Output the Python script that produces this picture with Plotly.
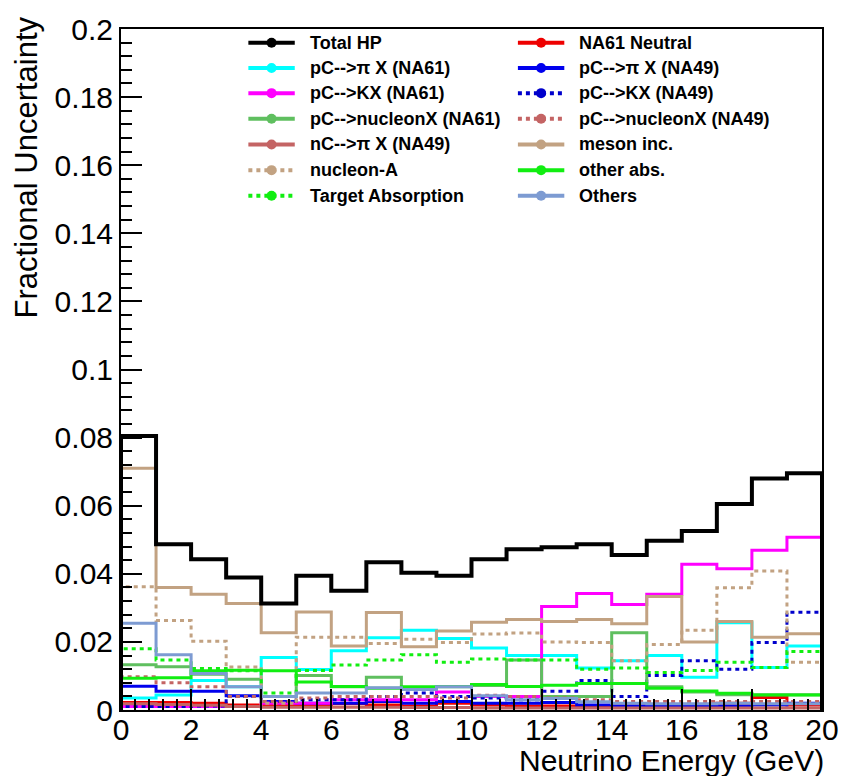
import plotly.graph_objects as go

# ---------------- data (bin edges in GeV, values = fractional uncertainty) ----
bin_edges = list(range(0, 21))

total_hp = [0.0805, 0.0487, 0.0443, 0.0389, 0.0313, 0.0394, 0.0350, 0.0434, 0.0403, 0.0394,
            0.0443, 0.0472, 0.0478, 0.0487, 0.0455, 0.0497, 0.0526, 0.0605, 0.0680, 0.0695]
na61_neutral = [0.0022, 0.0022, 0.0020, 0.0015, 0.0015, 0.0015, 0.0018, 0.0015, 0.0012, 0.0020,
                0.0015, 0.0012, 0.0012, 0.0012, 0.0012, 0.0012, 0.0015, 0.0020, 0.0037, 0.0015]
pc_pi_na61 = [0.0035, 0.0044, 0.0087, 0.0068, 0.0154, 0.0119, 0.0174, 0.0212, 0.0234, 0.0210,
              0.0182, 0.0160, 0.0160, 0.0123, 0.0145, 0.0160, 0.0096, 0.0256, 0.0125, 0.0188]
pc_pi_na49 = [0.0070, 0.0055, 0.0055, 0.0042, 0.0025, 0.0020, 0.0020, 0.0025, 0.0020, 0.0025,
              0.0020, 0.0020, 0.0022, 0.0015, 0.0012, 0.0012, 0.0012, 0.0012, 0.0015, 0.0020]
pc_k_na61 = [0.0010, 0.0010, 0.0010, 0.0010, 0.0020, 0.0020, 0.0030, 0.0030, 0.0030, 0.0053,
             0.0040, 0.0040, 0.0304, 0.0342, 0.0310, 0.0340, 0.0428, 0.0415, 0.0469, 0.0507]
pc_k_na49 = [0.0010, 0.0010, 0.0012, 0.0040, 0.0025, 0.0030, 0.0030, 0.0040, 0.0050, 0.0040,
             0.0035, 0.0030, 0.0055, 0.0087, 0.0040, 0.0101, 0.0145, 0.0120, 0.0198, 0.0287]
pc_nucleon_na61 = [0.0133, 0.0127, 0.0105, 0.0090, 0.0040, 0.0101, 0.0068, 0.0096, 0.0064, 0.0068,
                   0.0072, 0.0147, 0.0040, 0.0040, 0.0227, 0.0068, 0.0053, 0.0045, 0.0045, 0.0045]
pc_nucleon_na49 = [0.0098, 0.0080, 0.0068, 0.0040, 0.0025, 0.0035, 0.0040, 0.0040, 0.0040, 0.0035,
                   0.0043, 0.0040, 0.0035, 0.0030, 0.0025, 0.0025, 0.0025, 0.0025, 0.0025, 0.0025]
nc_pi_na49 = [0.0018, 0.0016, 0.0014, 0.0010, 0.0008, 0.0008, 0.0008, 0.0008, 0.0007, 0.0007,
              0.0006, 0.0006, 0.0006, 0.0006, 0.0006, 0.0006, 0.0006, 0.0006, 0.0006, 0.0006]
meson_inc = [0.0710, 0.0360, 0.0340, 0.0313, 0.0227, 0.0288, 0.0188, 0.0286, 0.0186, 0.0232,
             0.0258, 0.0266, 0.0260, 0.0266, 0.0253, 0.0333, 0.0200, 0.0260, 0.0214, 0.0224]
nucleon_a = [0.0362, 0.0263, 0.0202, 0.0126, 0.0020, 0.0214, 0.0214, 0.0195, 0.0208, 0.0198,
             0.0223, 0.0226, 0.0200, 0.0198, 0.0145, 0.0192, 0.0234, 0.0359, 0.0408, 0.0140]
other_abs = [0.0093, 0.0095, 0.0115, 0.0117, 0.0115, 0.0082, 0.0069, 0.0064, 0.0068, 0.0069,
             0.0075, 0.0069, 0.0073, 0.0078, 0.0078, 0.0064, 0.0056, 0.0049, 0.0044, 0.0044]
target_abs = [0.0180, 0.0147, 0.0122, 0.0115, 0.0050, 0.0116, 0.0132, 0.0147, 0.0162, 0.0140,
              0.0150, 0.0147, 0.0147, 0.0120, 0.0123, 0.0110, 0.0116, 0.0140, 0.0125, 0.0172]
others = [0.0255, 0.0162, 0.0107, 0.0068, 0.0040, 0.0050, 0.0050, 0.0065, 0.0060, 0.0068,
          0.0042, 0.0030, 0.0034, 0.0024, 0.0020, 0.0018, 0.0018, 0.0020, 0.0018, 0.0018]

legend_names = ["Total HP", "NA61 Neutral", "pC-->\u03c0 X (NA61)", "pC-->\u03c0 X (NA49)",
                "pC-->KX (NA61)", "pC-->KX (NA49)", "pC-->nucleonX (NA61)", "pC-->nucleonX (NA49)",
                "nC-->\u03c0 X (NA49)", "meson inc.", "nucleon-A", "other abs.",
                "Target Absorption", "Others"]
series_values = [total_hp, na61_neutral, pc_pi_na61, pc_pi_na49, pc_k_na61, pc_k_na49,
                 pc_nucleon_na61, pc_nucleon_na49, nc_pi_na49, meson_inc, nucleon_a,
                 other_abs, target_abs, others]

x_ticks = list(range(0, 21, 2))

# ---------------- styles ----------------
DOT = "4px,4px"
styles = [
    ("#000000", "solid", 4),
    ("#ee0000", "solid", 3),
    ("#00ffff", "solid", 3),
    ("#0000ee", "solid", 3),
    ("#ff00ff", "solid", 3),
    ("#0000cc", DOT, 3),
    ("#5fbf5f", "solid", 3),
    ("#c46464", DOT, 3),
    ("#c46464", "solid", 3),
    ("#c2a282", "solid", 3),
    ("#c2a282", DOT, 3),
    ("#11ee11", "solid", 3),
    ("#11ee11", DOT, 3),
    ("#7d9bd2", "solid", 3),
]

# plot-area geometry in pixels
W, H = 851, 776
L, R, T, B = 121, 20, 20, 66
PW, PH = W - L - R, H - T - B


def px(x):
    return (x - L) / PW


def py(y):
    return (T + PH - y) / PH


def step(vals):
    xs = [bin_edges[0]] + bin_edges[:-1] + [bin_edges[-1], bin_edges[-1]]
    ys = [0] + list(vals) + [vals[-1], 0]
    return xs, ys


fig = go.Figure()
draw_order = list(range(1, len(series_values))) + [0]
for i in draw_order:
    col, dash, w = styles[i]
    xs, ys = step(series_values[i])
    fig.add_trace(go.Scatter(x=xs, y=ys, mode="lines", line_shape="hv",
                             line=dict(color=col, width=w, dash=dash),
                             name=legend_names[i], showlegend=False, hoverinfo="skip"))

# ---------------- manual legend (ROOT TLegend look) ----------------
shapes = []
annotations = []
row_y = [34, 59.5, 85, 111, 137, 163, 189]
col_x = [(250, 297, 310), (523, 570, 583)]
for k, name in enumerate(legend_names):
    r, c = divmod(k, 2)
    x0, x1, xt = col_x[c]
    y = row_y[r]
    col, dash, w = styles[k]
    shapes.append(dict(type="line", xref="paper", yref="paper",
                       x0=px(x0), x1=px(x1), y0=py(y), y1=py(y),
                       line=dict(color=col, width=4, dash=dash)))
    shapes.append(dict(type="circle", xref="paper", yref="paper",
                       xsizemode="pixel", ysizemode="pixel",
                       xanchor=px((x0 + x1) / 2), yanchor=py(y),
                       x0=-5, x1=5, y0=-5, y1=5,
                       fillcolor=col, line=dict(color=col, width=0)))
    annotations.append(dict(xref="paper", yref="paper", x=px(xt), y=py(y),
                            xanchor="left", yanchor="middle", showarrow=False,
                            text="<b>" + name + "</b>",
                            font=dict(family="Liberation Sans", size=18, color="black")))

annotations.append(dict(xref="paper", yref="paper", x=px(25), y=py(5),
                        xanchor="center", yanchor="top", textangle=-90, showarrow=False,
                        text="Fractional Uncertainty",
                        font=dict(family="Liberation Sans", size=31, color="black")))
annotations.append(dict(xref="paper", yref="paper", x=px(835), y=py(761),
                        xanchor="right", yanchor="middle", showarrow=False,
                        text="Neutrino Energy (GeV)",
                        font=dict(family="Liberation Sans", size=30, color="black")))

axis_common = dict(showline=True, linecolor="black", linewidth=2, mirror=True,
                   ticks="inside", tickcolor="black", tickwidth=2, ticklen=21,
                   showgrid=False, zeroline=False,
                   tickfont=dict(family="Liberation Sans", size=30, color="black"))

fig.update_layout(
    width=W, height=H,
    margin=dict(l=L, r=R, t=T, b=B),
    paper_bgcolor="white", plot_bgcolor="white",
    showlegend=False,
    shapes=shapes, annotations=annotations,
    xaxis=dict(range=[0, 20], tickvals=x_ticks, ticktext=[str(v) for v in x_ticks],
               ticklabelstandoff=-8,
               minor=dict(ticks="inside", ticklen=11, tickcolor="black", tickwidth=2, dtick=0.4),
               **axis_common),
    yaxis=dict(range=[0, 0.2], dtick=0.02, tick0=0,
               minor=dict(ticks="inside", ticklen=11, tickcolor="black", tickwidth=2, dtick=0.004),
               **axis_common),
)

fig.write_html("out.html")
